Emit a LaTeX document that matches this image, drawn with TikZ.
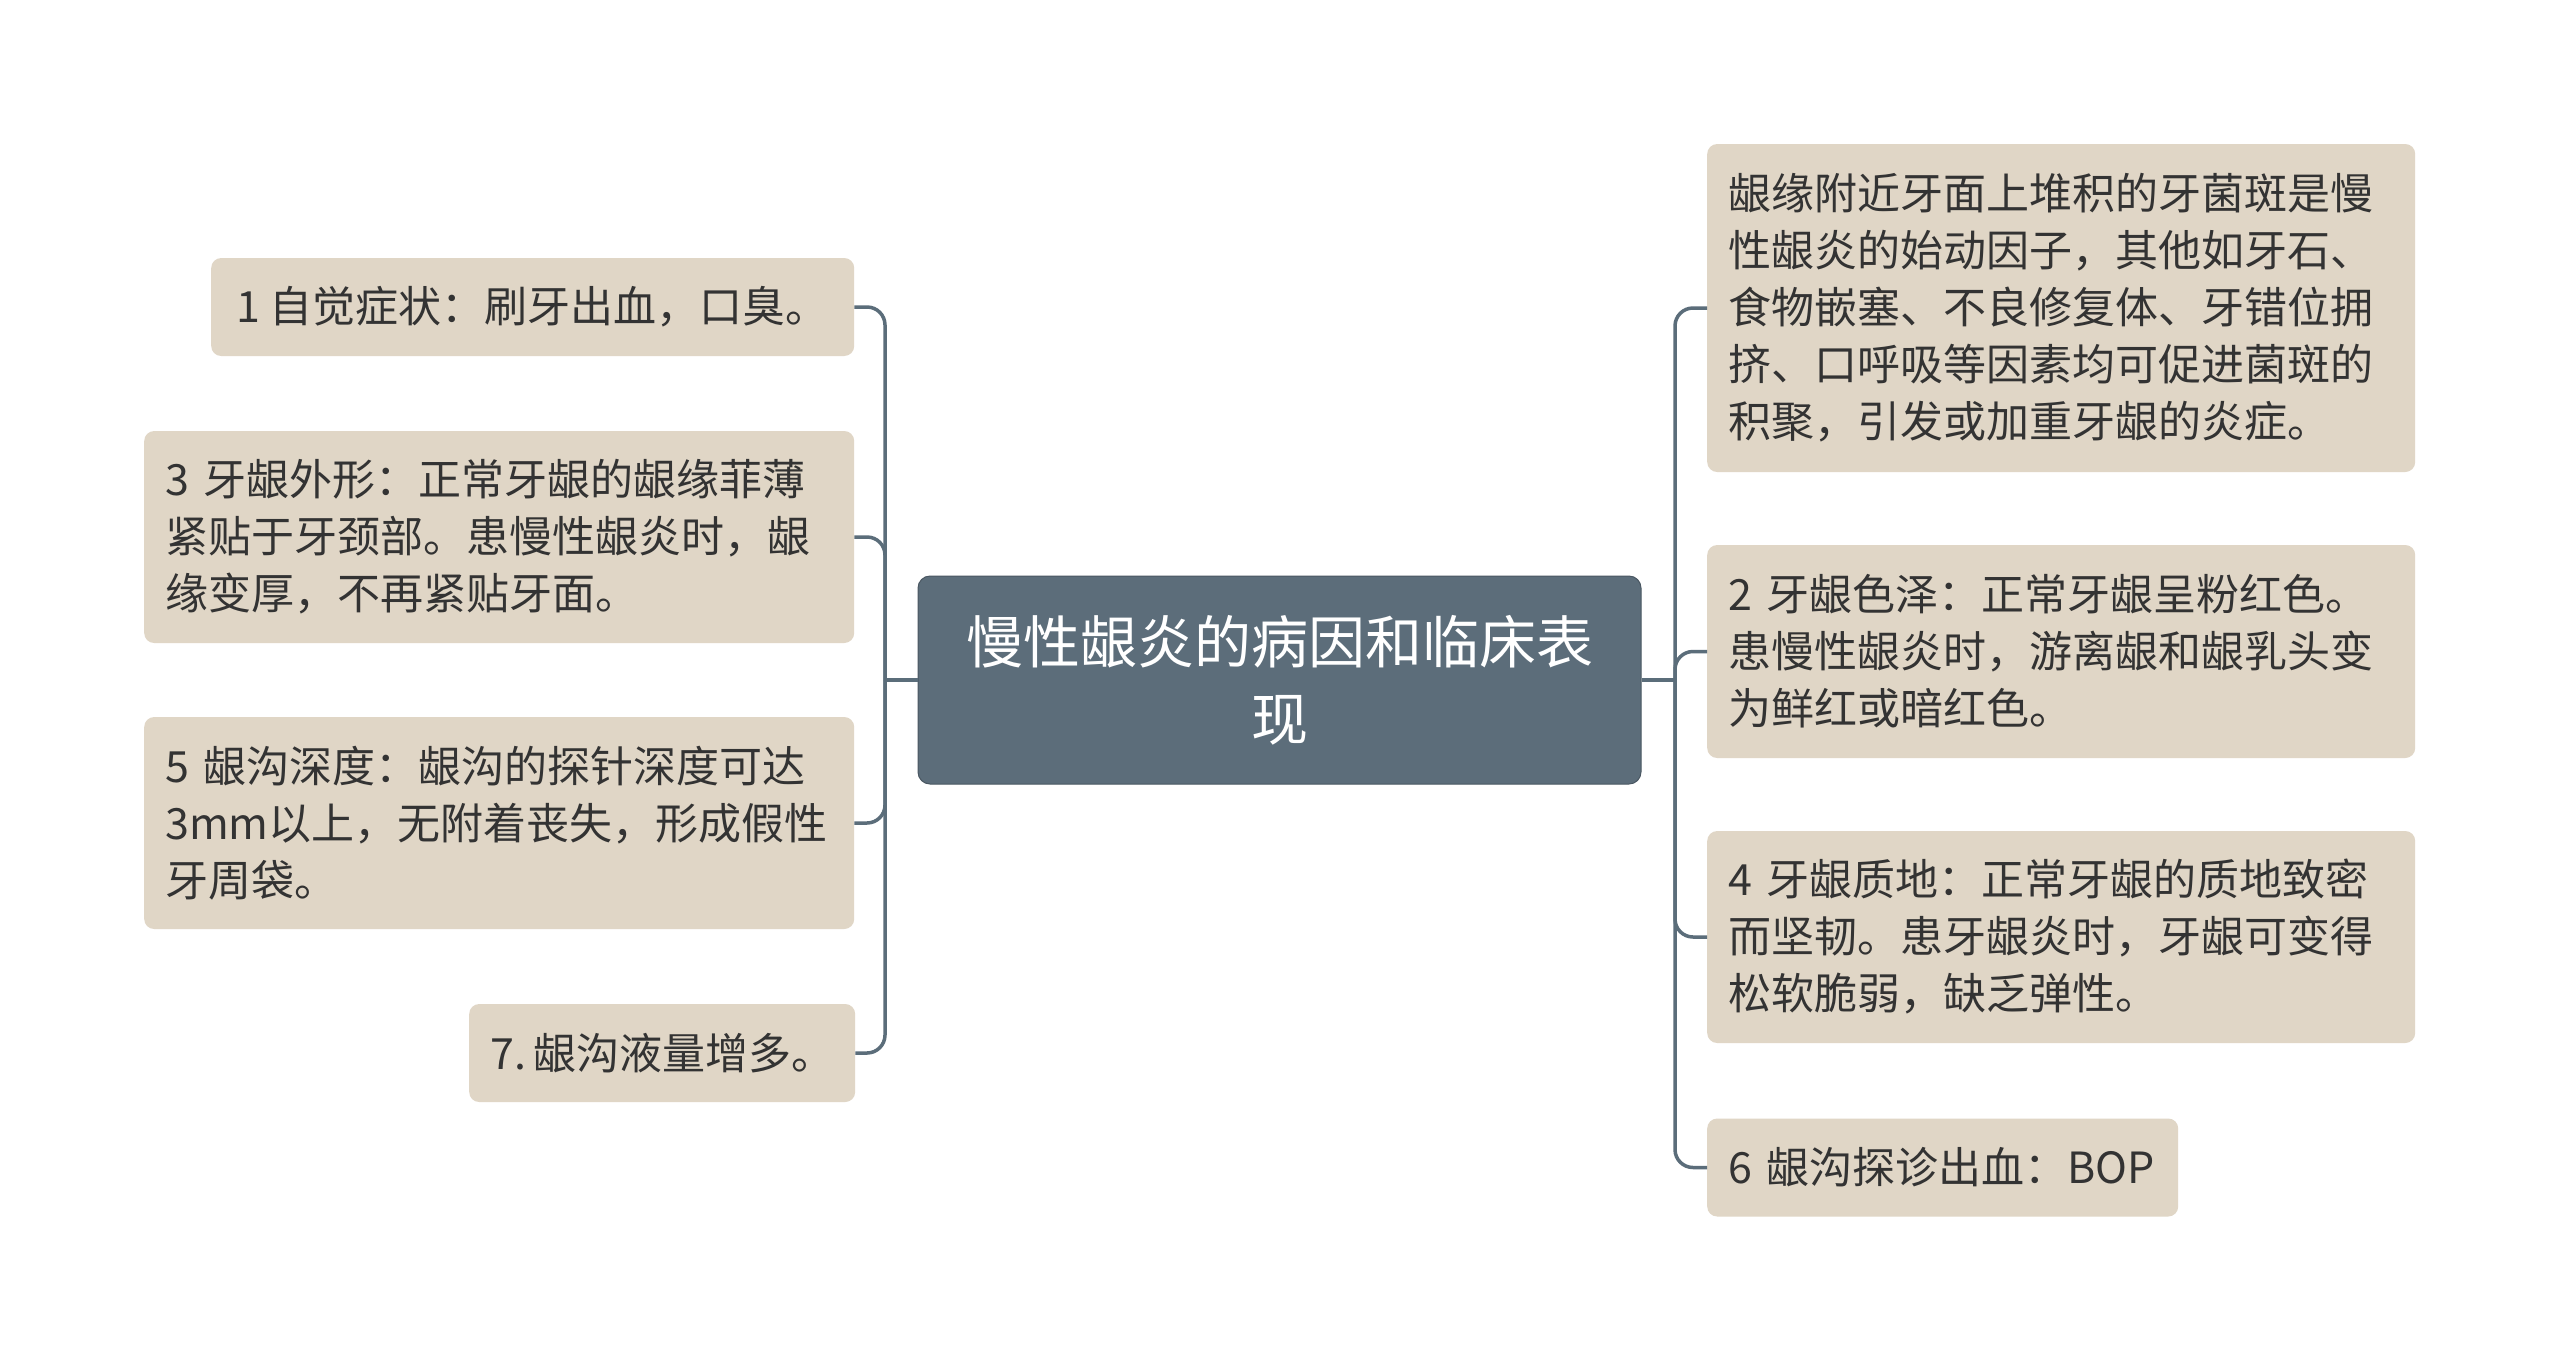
\documentclass[tikz,border=0pt]{standalone}
\usepackage{fontspec}
\setmainfont{Noto Sans CJK SC}
\definecolor{linec}{HTML}{5B6D7A}
\definecolor{rootc}{HTML}{5C6D7A}
\definecolor{leafc}{HTML}{E0D6C6}
\definecolor{txtc}{HTML}{333333}
\tikzset{
  leaf/.style={fill=leafc, rounded corners=10pt, inner xsep=21pt, inner ysep=0pt,
    align=left, text=txtc, font=\fontsize{43}{57}\selectfont, anchor=west},
  root/.style={fill=rootc, draw=rootc!80!black, line width=1pt, rounded corners=12pt,
    inner sep=0pt, align=center, text=white, font=\fontsize{57}{77}\selectfont},
  conn/.style={draw=linec, line width=3.5pt, rounded corners=18pt}
}
\begin{document}
\begin{tikzpicture}[x=1pt,y=-1pt]
\useasboundingbox (0,0) rectangle (2560,1361);
\fill[white] (0,0) rectangle (2560,1361);
% root
\node[root, minimum width=723pt, minimum height=208pt, text width=700pt] (root) at (1279.5,680) {慢性龈炎的病因和临床表\\现};
% left leaves
\node[leaf, minimum width=643pt, minimum height=98pt] (l1) at (211,307) {1 自觉症状：刷牙出血，口臭。};
\node[leaf, minimum width=710pt, minimum height=212pt, text width=668pt] (l3) at (144,537) {3 牙龈外形：正常牙龈的龈缘菲薄\\紧贴于牙颈部。患慢性龈炎时，龈\\缘变厚，不再紧贴牙面。};
\node[leaf, minimum width=710pt, minimum height=212pt, text width=668pt] (l5) at (144,823) {5 龈沟深度：龈沟的探针深度可达\\3mm以上，无附着丧失，形成假性\\牙周袋。};
\node[leaf, minimum width=385pt, minimum height=98pt] (l7) at (469,1053) {7.\,龈沟液量增多。};
% right leaves
\node[leaf, minimum width=708pt, minimum height=328pt, text width=666pt] (r0) at (1707,308) {龈缘附近牙面上堆积的牙菌斑是慢\\性龈炎的始动因子，其他如牙石、\\食物嵌塞、不良修复体、牙错位拥\\挤、口呼吸等因素均可促进菌斑的\\积聚，引发或加重牙龈的炎症。};
\node[leaf, minimum width=708pt, minimum height=213pt, text width=666pt] (r2) at (1707,651.5) {2 牙龈色泽：正常牙龈呈粉红色。\\患慢性龈炎时，游离龈和龈乳头变\\为鲜红或暗红色。};
\node[leaf, minimum width=708pt, minimum height=212pt, text width=666pt] (r4) at (1707,937) {4 牙龈质地：正常牙龈的质地致密\\而坚韧。患牙龈炎时，牙龈可变得\\松软脆弱，缺乏弹性。};
\node[leaf, minimum width=471pt, minimum height=98pt, text width=429pt] (r6) at (1707,1167.5) {6 龈沟探诊出血：BOP};
% connectors
\coordinate (lj) at (885,680);
\coordinate (rj) at (1675,680);
\draw[conn] (root.west) -- (lj);
\draw[conn] (root.east) -- (rj);
\foreach \n in {l1,l3,l5,l7} \draw[conn] (lj) |- (\n.east);
\foreach \n in {r0,r2,r4,r6} \draw[conn] (rj) |- (\n.west);
\end{tikzpicture}
\end{document}
